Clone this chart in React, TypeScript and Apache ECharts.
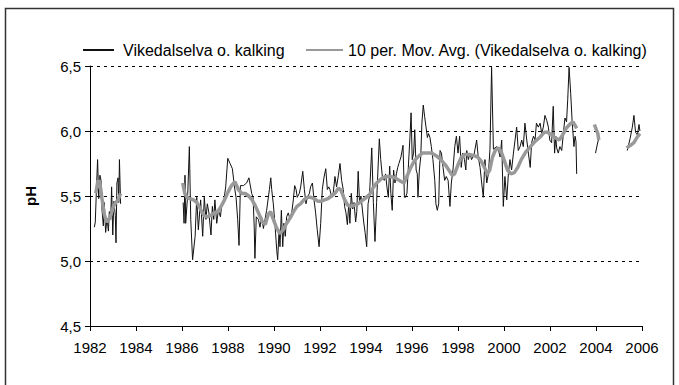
import React, { useEffect, useRef } from "react";
import * as echarts from "echarts";

// Observed pH, Vikedalselva (unlimed), as [decimal year, pH]
const obs1982: [number, number][] = [
  [1982.19, 5.26], [1982.23, 5.3], [1982.29, 5.6], [1982.33, 5.78], [1982.38, 5.48],
  [1982.43, 5.66], [1982.48, 5.62], [1982.52, 5.4], [1982.58, 5.27], [1982.62, 5.45],
  [1982.68, 5.22], [1982.74, 5.33], [1982.8, 5.23], [1982.84, 5.38], [1982.9, 5.32],
  [1982.94, 5.57], [1982.99, 5.2], [1983.04, 5.46], [1983.1, 5.35], [1983.13, 5.14],
  [1983.17, 5.6], [1983.22, 5.64], [1983.25, 5.45], [1983.28, 5.78], [1983.33, 5.44],
];

const obs1986: [number, number][] = [
  [1986.05, 5.45], [1986.09, 5.29], [1986.13, 5.66], [1986.16, 5.29], [1986.25, 5.52],
  [1986.32, 5.88], [1986.38, 5.32], [1986.46, 5.01], [1986.57, 5.19], [1986.64, 5.49],
  [1986.71, 5.24], [1986.81, 5.47], [1986.9, 5.19], [1986.97, 5.49], [1987.04, 5.32],
  [1987.1, 5.44], [1987.17, 5.37], [1987.26, 5.2], [1987.32, 5.42], [1987.38, 5.32],
  [1987.43, 5.47], [1987.51, 5.29], [1987.58, 5.39], [1987.67, 5.34], [1987.72, 5.42],
  [1987.8, 5.44], [1987.9, 5.57], [1987.99, 5.79], [1988.09, 5.75], [1988.19, 5.71],
  [1988.28, 5.57], [1988.35, 5.49], [1988.42, 5.32], [1988.48, 5.12], [1988.54, 5.58],
  [1988.67, 5.58], [1988.81, 5.6], [1988.91, 5.64], [1989.03, 5.52], [1989.09, 5.49],
  [1989.14, 5.26], [1989.17, 5.02], [1989.23, 5.34], [1989.32, 5.32], [1989.39, 5.26],
  [1989.46, 5.34], [1989.54, 5.25], [1989.61, 5.32], [1989.68, 5.39], [1989.8, 5.55],
  [1989.86, 5.64], [1989.9, 5.55], [1989.97, 5.44], [1990.04, 5.29], [1990.12, 5.08],
  [1990.16, 5.01], [1990.22, 5.24], [1990.26, 5.11], [1990.32, 5.39], [1990.38, 5.11],
  [1990.43, 5.29], [1990.49, 5.19], [1990.55, 5.34], [1990.62, 5.37], [1990.7, 5.32],
  [1990.77, 5.37], [1990.84, 5.47], [1990.9, 5.58], [1990.96, 5.55], [1991.01, 5.49],
  [1991.1, 5.52], [1991.16, 5.57], [1991.25, 5.69], [1991.32, 5.55], [1991.39, 5.44],
  [1991.45, 5.49], [1991.54, 5.52], [1991.59, 5.57], [1991.67, 5.6], [1991.74, 5.47],
  [1991.81, 5.37], [1991.88, 5.24], [1991.96, 5.11], [1992.03, 5.29], [1992.1, 5.55],
  [1992.17, 5.64], [1992.25, 5.71], [1992.32, 5.55], [1992.38, 5.57], [1992.43, 5.55],
  [1992.51, 5.49], [1992.58, 5.53], [1992.65, 5.65], [1992.72, 5.57], [1992.8, 5.66],
  [1992.87, 5.75], [1992.94, 5.62], [1993.01, 5.55], [1993.07, 5.42], [1993.13, 5.37],
  [1993.19, 5.28], [1993.25, 5.44], [1993.3, 5.29], [1993.36, 5.52], [1993.42, 5.4],
  [1993.48, 5.45], [1993.55, 5.3], [1993.6, 5.38], [1993.66, 5.69], [1993.72, 5.45],
  [1993.78, 5.5], [1993.84, 5.4], [1993.9, 5.3], [1993.96, 5.22], [1994.03, 5.11],
  [1994.09, 5.44], [1994.15, 5.5], [1994.25, 5.87], [1994.32, 5.45], [1994.39, 5.15],
  [1994.46, 5.45], [1994.52, 5.7], [1994.58, 5.94], [1994.64, 5.78], [1994.71, 5.65],
  [1994.79, 5.62], [1994.85, 5.67], [1994.91, 5.57], [1994.97, 5.49], [1995.03, 5.73],
  [1995.08, 5.52], [1995.14, 5.39], [1995.2, 5.7], [1995.26, 5.6], [1995.32, 5.67],
  [1995.38, 5.72], [1995.43, 5.75], [1995.52, 5.8], [1995.61, 5.89], [1995.67, 5.49],
  [1995.72, 5.49], [1995.78, 5.52], [1995.84, 5.72], [1995.91, 5.95], [1995.96, 6.14],
  [1996.01, 5.78], [1996.07, 5.83], [1996.12, 6.01], [1996.18, 5.7], [1996.23, 5.67],
  [1996.26, 5.49], [1996.32, 5.7], [1996.38, 5.8], [1996.43, 6.06], [1996.49, 6.2],
  [1996.55, 6.11], [1996.61, 6.03], [1996.67, 5.95], [1996.72, 5.98], [1996.78, 5.95],
  [1996.84, 5.88], [1996.91, 5.78], [1996.99, 5.62], [1997.04, 5.44], [1997.1, 5.39],
  [1997.16, 5.44], [1997.22, 5.85], [1997.28, 5.83], [1997.35, 5.72], [1997.42, 5.62],
  [1997.49, 5.65], [1997.57, 5.62], [1997.65, 5.42], [1997.71, 5.6], [1997.78, 5.7],
  [1997.86, 5.88], [1997.93, 5.96], [1998.0, 5.83], [1998.07, 5.96], [1998.14, 5.72],
  [1998.21, 5.83], [1998.28, 5.78], [1998.34, 5.7], [1998.38, 5.85], [1998.45, 5.78],
  [1998.52, 5.83], [1998.59, 5.78], [1998.7, 5.82], [1998.81, 5.93], [1998.88, 5.8],
  [1998.96, 5.72], [1999.03, 5.6], [1999.1, 5.49], [1999.17, 5.78], [1999.25, 5.6],
  [1999.32, 5.67], [1999.39, 5.86], [1999.46, 6.49], [1999.54, 5.86], [1999.61, 5.87],
  [1999.68, 5.88], [1999.75, 5.86], [1999.83, 5.8], [1999.9, 5.93], [1999.97, 5.42],
  [2000.04, 5.65], [2000.12, 5.47], [2000.19, 5.67], [2000.26, 5.78], [2000.33, 5.7],
  [2000.41, 5.83], [2000.48, 5.93], [2000.55, 6.03], [2000.62, 5.85], [2000.7, 5.88],
  [2000.77, 5.93], [2000.84, 5.88], [2000.91, 6.06], [2000.99, 5.93], [2001.06, 5.83],
  [2001.14, 5.72], [2001.2, 5.91], [2001.28, 5.96], [2001.35, 5.93], [2001.41, 6.06],
  [2001.49, 6.03], [2001.57, 6.06], [2001.64, 5.98], [2001.71, 6.03], [2001.78, 6.12],
  [2001.86, 6.08], [2001.93, 6.03], [2001.99, 5.93], [2002.07, 5.91], [2002.14, 6.19],
  [2002.2, 5.83], [2002.25, 5.96], [2002.29, 5.87], [2002.36, 5.83], [2002.43, 5.88],
  [2002.51, 5.85], [2002.58, 5.98], [2002.65, 6.1], [2002.72, 6.07], [2002.77, 6.24],
  [2002.83, 6.49], [2002.9, 6.29], [2002.96, 6.08], [2003.01, 5.96], [2003.04, 5.88],
  [2003.09, 5.96], [2003.13, 5.92], [2003.16, 5.67],
];

const obs2004: [number, number][] = [
  [2003.98, 5.83], [2004.06, 5.9], [2004.14, 5.96],
];

const obs2005: [number, number][] = [
  [2005.36, 5.85], [2005.48, 5.94], [2005.58, 6.03], [2005.65, 6.12], [2005.72, 5.99],
  [2005.8, 5.97], [2005.87, 6.05], [2005.91, 6.0],
];

// 10-period moving average, as [decimal year, pH]
const avg1982: [number, number][] = [
  [1982.25, 5.52], [1982.35, 5.62], [1982.43, 5.6], [1982.52, 5.48], [1982.62, 5.36],
  [1982.72, 5.3], [1982.82, 5.32], [1982.92, 5.36], [1983.02, 5.42], [1983.12, 5.45],
  [1983.22, 5.47], [1983.33, 5.52],
];

const avg1986: [number, number][] = [
  [1986.03, 5.6], [1986.12, 5.52], [1986.22, 5.49], [1986.35, 5.48], [1986.5, 5.47],
  [1986.65, 5.45], [1986.8, 5.4], [1986.95, 5.35], [1987.1, 5.34], [1987.25, 5.35],
  [1987.4, 5.37], [1987.55, 5.38], [1987.7, 5.42], [1987.85, 5.47], [1988.0, 5.53],
  [1988.15, 5.58], [1988.3, 5.61], [1988.45, 5.55], [1988.6, 5.52], [1988.75, 5.52],
  [1988.9, 5.5], [1989.05, 5.47], [1989.2, 5.42], [1989.35, 5.36], [1989.5, 5.3],
  [1989.62, 5.28], [1989.75, 5.36], [1989.85, 5.38], [1989.95, 5.33], [1990.1, 5.26],
  [1990.25, 5.21], [1990.4, 5.24], [1990.55, 5.29], [1990.7, 5.33], [1990.85, 5.38],
  [1991.0, 5.42], [1991.15, 5.44], [1991.3, 5.47], [1991.45, 5.49], [1991.6, 5.49],
  [1991.75, 5.48], [1991.9, 5.46], [1992.05, 5.46], [1992.2, 5.47], [1992.35, 5.48],
  [1992.5, 5.5], [1992.65, 5.52], [1992.8, 5.56], [1992.9, 5.55], [1993.05, 5.48],
  [1993.2, 5.43], [1993.35, 5.42], [1993.5, 5.43], [1993.65, 5.44], [1993.8, 5.46],
  [1993.95, 5.48], [1994.15, 5.51], [1994.3, 5.56], [1994.46, 5.6], [1994.65, 5.63],
  [1994.85, 5.65], [1995.05, 5.65], [1995.25, 5.64], [1995.45, 5.62], [1995.65, 5.6],
  [1995.8, 5.66], [1995.95, 5.72], [1996.1, 5.77], [1996.25, 5.8], [1996.45, 5.83],
  [1996.65, 5.83], [1996.85, 5.83], [1997.05, 5.81], [1997.25, 5.78], [1997.45, 5.74],
  [1997.6, 5.7], [1997.75, 5.66], [1997.85, 5.67], [1998.0, 5.74], [1998.15, 5.8],
  [1998.3, 5.82], [1998.5, 5.82], [1998.7, 5.81], [1998.85, 5.8], [1999.0, 5.77],
  [1999.15, 5.72], [1999.28, 5.67], [1999.38, 5.7], [1999.5, 5.8], [1999.62, 5.85],
  [1999.75, 5.87], [1999.88, 5.84], [2000.0, 5.78], [2000.15, 5.7], [2000.3, 5.67],
  [2000.45, 5.68], [2000.6, 5.72], [2000.75, 5.78], [2000.95, 5.84], [2001.15, 5.88],
  [2001.35, 5.92], [2001.55, 5.95], [2001.75, 5.99], [2001.9, 5.99], [2002.05, 5.97],
  [2002.2, 5.95], [2002.4, 5.93], [2002.55, 5.97], [2002.7, 6.02], [2002.85, 6.05],
  [2003.0, 6.07], [2003.1, 6.04], [2003.16, 6.02],
];

const avg2004: [number, number][] = [
  [2003.93, 6.05], [2004.08, 5.98], [2004.12, 5.93],
];

const avg2005: [number, number][] = [
  [2005.33, 5.87], [2005.5, 5.89], [2005.65, 5.91], [2005.78, 5.95], [2005.91, 5.98],
];

const yearTicks = { min: 1982, max: 2006, step: 2 };
const phTicks = { min: 4.5, max: 6.5, step: 0.5 };

const RAW_NAME = "Vikedalselva o. kalking";
const AVG_NAME = "10 per. Mov. Avg. (Vikedalselva o. kalking)";

// Join separate sampling periods with an empty point so the line breaks between them
function joinSegments(segments: [number, number][][]) {
  const out: (number | string)[][] = [];
  segments.forEach((seg, i) => {
    if (i > 0) out.push([seg[0][0] - 0.01, "-"]);
    seg.forEach((p) => out.push([p[0], p[1]]));
  });
  return out;
}

const FONT = "'Liberation Sans', Arial, Helvetica, sans-serif";
const legendText = { fontSize: 16, color: "#000", fontFamily: FONT };

export default function App() {
  const ref = useRef<HTMLDivElement>(null);

  useEffect(() => {
    if (!ref.current) return;
    const chart = echarts.init(ref.current, undefined, { renderer: "svg" });
    chart.setOption({
      animation: false,
      backgroundColor: "#fff",
      textStyle: { fontFamily: FONT },
      graphic: [
        {
          type: "rect",
          shape: { x: 5.5, y: 8.5, width: 668, height: 400 },
          style: { fill: "none", stroke: "#333", lineWidth: 1.5 },
          silent: true,
        },
      ],
      // one legend box per series so each entry can sit where it belongs
      legend: [
        {
          left: 77,
          top: 37,
          itemWidth: 31,
          itemHeight: 2,
          textStyle: { ...legendText, padding: [0, 0, 0, 4] },
          data: [RAW_NAME],
        },
        {
          left: 300,
          top: 37,
          itemWidth: 37,
          itemHeight: 2,
          textStyle: legendText,
          data: [AVG_NAME],
        },
      ],
      grid: { left: 90, right: 37, top: 66, bottom: 59, containLabel: false },
      xAxis: {
        type: "value",
        min: yearTicks.min,
        max: yearTicks.max,
        interval: yearTicks.step,
        axisLine: { lineStyle: { color: "#000", width: 1 } },
        axisTick: { lineStyle: { color: "#000" }, length: 5 },
        axisLabel: {
          color: "#000",
          fontSize: 15,
          margin: 14,
          fontFamily: FONT,
          formatter: (v: number) => String(Math.round(v)),
        },
        splitLine: { show: false },
      },
      yAxis: {
        type: "value",
        min: phTicks.min,
        max: phTicks.max,
        interval: phTicks.step,
        name: "pH",
        nameLocation: "middle",
        nameRotate: 90,
        nameGap: 52,
        nameTextStyle: { fontWeight: "bold", fontSize: 15, color: "#000", fontFamily: FONT },
        axisLine: { show: true, lineStyle: { color: "#000", width: 1 } },
        axisTick: { show: true, lineStyle: { color: "#000" }, length: 5 },
        axisLabel: {
          color: "#000",
          fontSize: 15,
          margin: 9,
          fontFamily: FONT,
          formatter: (v: number) => v.toFixed(1).replace(".", ","),
        },
        splitLine: {
          show: true,
          lineStyle: { color: "#000", width: 1, type: [3, 4] },
        },
      },
      series: [
        {
          name: RAW_NAME,
          type: "line",
          data: joinSegments([obs1982, obs1986, obs2004, obs2005]),
          symbol: "none",
          showSymbol: false,
          connectNulls: false,
          lineStyle: { color: "#111", width: 1 },
          itemStyle: { color: "#111" },
        },
        {
          name: AVG_NAME,
          type: "line",
          data: joinSegments([avg1982, avg1986, avg2004, avg2005]),
          symbol: "none",
          showSymbol: false,
          connectNulls: false,
          lineStyle: { color: "#999", width: 3.5 },
          itemStyle: { color: "#999" },
        },
      ],
    });
    return () => chart.dispose();
  }, []);

  return (
    <div
      ref={ref}
      style={{ position: "fixed", left: 0, top: 0, width: 679, height: 385, background: "#fff" }}
    />
  );
}
